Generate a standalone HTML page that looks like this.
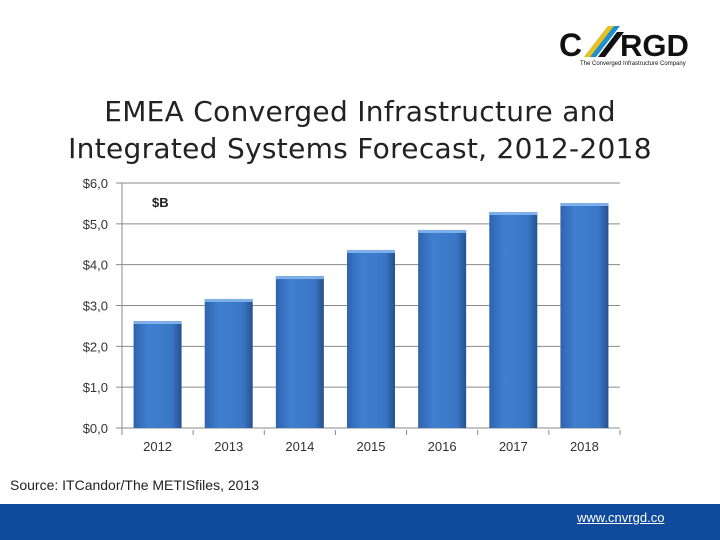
<!DOCTYPE html>
<html><head><meta charset="utf-8"><style>
body{margin:0;width:720px;height:540px;background:#fff;position:relative;overflow:hidden;font-family:"Liberation Sans",sans-serif}
.t{position:absolute;white-space:nowrap}
</style></head><body>
<div class="t" style="left:558px;top:24px;width:140px;height:45px">
<svg width="140" height="45">
<text x="1" y="32" font-family="Liberation Sans" font-weight="bold" font-size="32" fill="#111">C</text>
<polygon points="26,33 38,33 62,2 50,2" fill="#1b8fd0"/>
<polygon points="26,33 32,33 56,2 50,2" fill="#e8c020"/>
<polygon points="40,33 47,33 66,8 59,8" fill="#111"/>
<text x="62" y="32" font-family="Liberation Sans" font-weight="bold" font-size="31" fill="#111">RGD</text>
<text x="22" y="41" font-family="Liberation Sans" font-size="6" fill="#111">The Converged Infrastructure Company</text>
</svg></div>
<div class="t" style="left:0;width:720px;text-align:center;top:93px;font-size:28px;line-height:37px;color:#222;font-family:'DejaVu Sans',sans-serif;letter-spacing:0.3px">EMEA Converged Infrastructure and<br>Integrated Systems Forecast, 2012-2018</div>
<svg id="chart" width="720" height="540" style="position:absolute;left:0;top:0">
<defs><linearGradient id="g" x1="0" y1="0" x2="1" y2="0"><stop offset="0" stop-color="#2f63ad"/><stop offset="0.3" stop-color="#3f7fd0"/><stop offset="0.8" stop-color="#3a76c6"/><stop offset="1" stop-color="#25518f"/></linearGradient></defs>
</svg>
<div class="t" style="left:152px;top:195px;font-size:13px;font-weight:bold;color:#222">$B</div>
<div class="t" style="left:10px;top:477px;font-size:14px;color:#222">Source: ITCandor/The METISfiles, 2013</div>
<div style="position:absolute;left:0;top:504px;width:720px;height:36px;background:#0f4a9c"></div>
<div class="t" style="left:577px;top:510px;font-size:13px;color:#fff;text-decoration:underline">www.cnvrgd.co</div>
<script>
const years=["2012","2013","2014","2015","2016","2017","2018"];
const values=[2.62,3.16,3.72,4.36,4.85,5.29,5.51];
const ticks=[0,1,2,3,4,5,6];
const tickLabels=["$0,0","$1,0","$2,0","$3,0","$4,0","$5,0","$6,0"];
const svg=document.getElementById('chart');const NS='http://www.w3.org/2000/svg';
const x0=122,x1=620,y0=428,y1=183;
const y=v=>y0-(v/6)*(y0-y1);
const bw=(x1-x0)/years.length;
function mk(t,a){const e=document.createElementNS(NS,t);for(const k in a)e.setAttribute(k,a[k]);svg.appendChild(e);return e;}
ticks.forEach((t,i)=>{
 const l=mk('line',{x1:x0-6,x2:x1,y1:y(t),y2:y(t),stroke:'#8a8a8a','stroke-width':1});
 
 
 const tx=mk('text',{x:x0-14,y:y(t)+5,'text-anchor':'end','font-size':13,fill:'#333','font-family':'Liberation Sans'});
 tx.textContent=tickLabels[i];
 
 
});
mk('line',{x1:x0,x2:x0,y1:y1,y2:y0+6,stroke:'#8a8a8a'});
for(let i=0;i<=years.length;i++){mk('line',{x1:x0+i*bw,x2:x0+i*bw,y1:y0+2,y2:y0+7,stroke:'#8a8a8a'});}
years.forEach((yr,i)=>{
 const cx=x0+bw*(i+0.5),w=48;
 const r=mk('rect',{x:cx-w/2,y:y(values[i]),width:w,height:y0-y(values[i]),fill:'url(#g)'});
 
 
 mk('rect',{x:cx-w/2,y:y(values[i]),width:w,height:3,fill:'#7fb0ea'});
 const tx=mk('text',{x:cx,y:451,'text-anchor':'middle','font-size':13,fill:'#333','font-family':'Liberation Sans'});
 tx.textContent=yr;
 
 
});
</script>
</body></html>
